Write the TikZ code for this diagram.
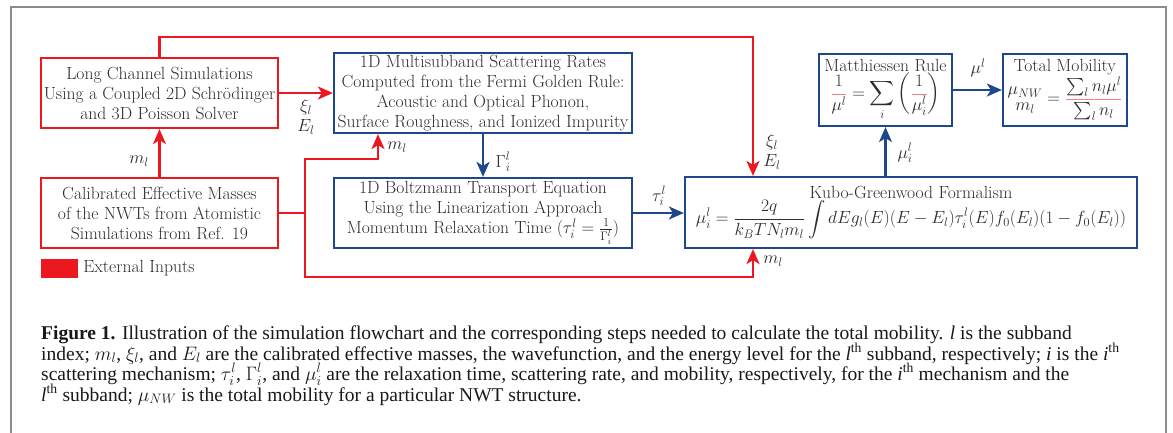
\RequirePackage{fix-cm}
\documentclass[tikz,border=0pt]{standalone}
\usepackage{amsmath}
\usepackage{fontspec}
\newfontfamily\capfont{Liberation Serif}
\usetikzlibrary{arrows.meta,calc}
\definecolor{bred}{RGB}{236,24,32}
\definecolor{bblue}{RGB}{30,72,138}
\definecolor{framegray}{RGB}{140,140,140}
\definecolor{txt}{RGB}{45,45,45}
\newcommand\boxfont{\fontsize{17.6}{20}\selectfont}
\newcommand\capsize{\fontsize{19.5}{21}\selectfont}
\newcommand\rfrac[2]{{\color{bred!55}\frac{\color{txt}#1}{\color{txt}#2}}}
\begin{document}
\begin{tikzpicture}[x=1pt,y=-1pt,
  boxbase/.style={line width=2.2pt, fill=white, inner sep=0pt, align=center, font=\boxfont, text=txt},
  redbox/.style={boxbase, draw=bred},
  bluebox/.style={boxbase, draw=bblue},
  redarr/.style={draw=bred, line width=2.2pt, -{Stealth[length=15pt,width=13pt,inset=4pt]}},
  redline/.style={draw=bred, line width=2.2pt},
  bluearr/.style={draw=bblue, line width=2.2pt, -{Stealth[length=15pt,width=13pt,inset=4pt]}},
  lbl/.style={font=\boxfont, text=txt, inner sep=0pt, align=center},
  capline/.style={anchor=base west, inner sep=0pt, font=\capfont\capsize, text=black!90}]
\useasboundingbox (0,0) rectangle (1173,432);
\fill[white] (0,0) rectangle (1173,432);
\draw[framegray, line width=1.6pt] (11,440) -- (11,7) -- (1166,7) -- (1166,440);

% boxes
\node[redbox, minimum width=237, minimum height=70] (lc) at (159.5,93)
  {Long Channel Simulations\\Using a Coupled 2D Schr\"odinger\\and 3D Poisson Solver};
\node[redbox, minimum width=237, minimum height=70] (cal) at (159.5,213)
  {Calibrated Effective Masses\\of the NWTs from Atomistic\\Simulations from Ref. 19};
\node[bluebox, minimum width=298, minimum height=80] (ms) at (483,93)
  {1D Multisubband Scattering Rates\\Computed from the Fermi Golden Rule:\\Acoustic and Optical Phonon,\\Surface Roughness, and Ionized Impurity};
\node[bluebox, minimum width=298, minimum height=70] (bte) at (483,213)
  {1D Boltzmann Transport Equation\\Using the Linearization Approach\\Momentum Relaxation Time $(\tau_i^l=\frac{1}{\Gamma_i^l})$};
\node[bluebox, minimum width=452, minimum height=71] (kubo) at (911,212.5)
  {Kubo-Greenwood Formalism\\
   $\displaystyle\mu_i^l=\frac{2q}{k_BTN_lm_l}\int dEg_l(E)(E-E_l)\tau_i^l(E)f_0(E_l)(1-f_0(E_l))$};
\node[bluebox, minimum width=133, minimum height=72] (mr) at (885.5,90)
  {Matthiessen Rule\\
   $\displaystyle\rfrac{1}{\mu^l}=\sum_i\left(\rfrac{1}{\mu_i^l}\right)$};
\node[bluebox, minimum width=124, minimum height=72] (tm) at (1065,90)
  {Total Mobility\\
   $\displaystyle\begin{array}{@{}c@{}}\mu_{NW}\\[-4pt] m_l\end{array}=\rfrac{\sum_l n_l\mu^l}{\sum_l n_l}$};

% legend
\node[fill=bred, minimum width=37, minimum height=19, inner sep=0pt] (leg) at (59.5,268.5) {};
\node[lbl, anchor=west] (legt) at ($(leg.east)+(5,0)$) {External Inputs};

% red connectors
\coordinate (t1) at (753,37);
\coordinate (j) at (305,213);
\coordinate (c1) at (378,159);
\coordinate (c2) at (753,277);
\draw[redarr] (cal.north) -- (lc.south);
\draw[redarr] (lc.east) -- (ms.west);
\draw[redarr] (lc.north) |- (t1) -- (t1 |- kubo.north);
\draw[redline] (cal.east) -- (j);
\draw[redarr] (j) |- (c1) -- (c1 |- ms.south);
\draw[redarr] (j) |- (c2) -- (c2 |- kubo.south);

% blue connectors
\draw[bluearr] (ms.south) -- (bte.north);
\draw[bluearr] (bte.east) -- (bte.east -| kubo.west);
\draw[bluearr] (mr.south |- kubo.north) -- (mr.south);
\draw[bluearr] (mr.east) -- (mr.east -| tm.west);

% labels
\node[lbl] (lxi1) at (306,117) {$\xi_l$\\$E_l$};
\node[lbl] (lm1) at (139,161) {$m_l$};
\node[lbl] (lm2) at (397,147) {$m_l$};
\node[lbl] (lg) at (503,162) {$\Gamma_i^l$};
\node[lbl] (lt) at (659,196) {$\tau_i^l$};
\node[lbl] (lxi2) at (772,152) {$\xi_l$\\$E_l$};
\node[lbl] (lmu) at (905,153) {$\mu_i^l$};
\node[lbl] (lmul) at (978,68) {$\mu^l$};
\node[lbl] (lm3) at (773,261) {$m_l$};

% caption
\node[capline] (cap1) at (41,339) {\textbf{Figure 1.} Illustration of the simulation flowchart and the corresponding steps needed to calculate the total mobility. \textit{l} is the subband};
\node[capline] (cap2) at (41,360) {index; $m_l$, $\xi_l$, and $E_l$ are the calibrated effective masses, the wavefunction, and the energy level for the \textit{l}\textsuperscript{th} subband, respectively; \textit{i} is the \textit{i}\textsuperscript{th}};
\node[capline] (cap3) at (41,380) {scattering mechanism; $\tau_i^l$, $\Gamma_i^l$, and $\mu_i^l$ are the relaxation time, scattering rate, and mobility, respectively, for the \textit{i}\textsuperscript{th} mechanism and the};
\node[capline] (cap4) at (41,401) {\textit{l}\textsuperscript{th} subband; $\mu_{NW}$ is the total mobility for a particular NWT structure.};
\end{tikzpicture}
\end{document}
